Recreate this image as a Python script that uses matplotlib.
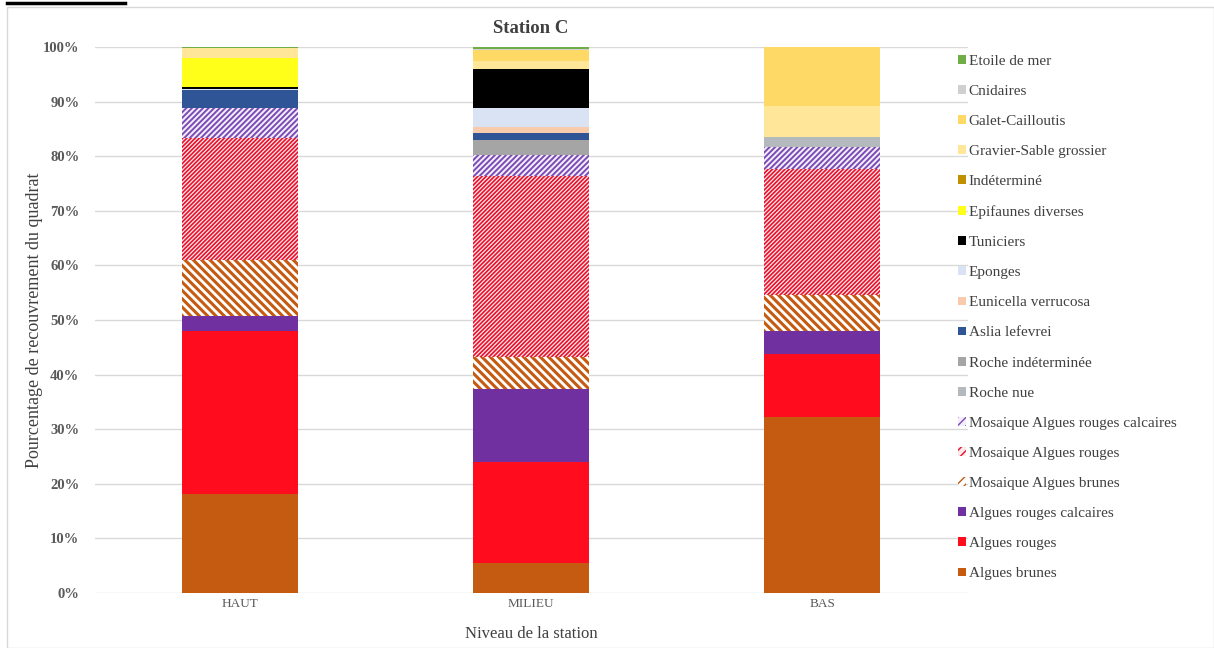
import numpy as np
import matplotlib
matplotlib.use("Agg")
import matplotlib.pyplot as plt
from matplotlib.patches import Patch, Rectangle
from matplotlib.lines import Line2D
from matplotlib.ticker import PercentFormatter

plt.rcParams['font.family'] = ['Liberation Serif', 'DejaVu Serif']

niveaux = ["HAUT", "MILIEU", "BAS"]

# recouvrement (%) par categorie, de bas en haut de la pile
algues_brunes = [18.2, 5.5, 32.3]
algues_rouges = [29.8, 18.5, 11.4]
algues_rouges_calcaires = [2.8, 13.3, 4.3]
mosaique_brunes = [10.2, 6.0, 6.6]
mosaique_rouges = [22.3, 33.0, 23.1]
mosaique_rouges_calcaires = [5.5, 3.9, 4.0]
roche_nue = [0.0, 0.0, 1.8]
roche_indeterminee = [0.0, 2.8, 0.0]
aslia_lefevrei = [3.3, 1.2, 0.0]
eunicella_verrucosa = [0.0, 1.1, 0.0]
eponges = [0.2, 3.5, 0.0]
tuniciers = [0.4, 7.2, 0.0]
epifaunes_diverses = [5.2, 0.0, 0.0]
indetermine = [0.0, 0.0, 0.0]
gravier_sable = [1.9, 1.5, 5.7]
galet_cailloutis = [0.0, 1.9, 10.8]
cnidaires = [0.0, 0.3, 0.0]
etoile_de_mer = [0.2, 0.3, 0.0]

# (label, valeurs, couleur de fond, couleur des hachures, motif, epaisseur hachures)
series = [
    ("Algues brunes", algues_brunes, "#C55A11", None, None, 0),
    ("Algues rouges", algues_rouges, "#FF0D1F", None, None, 0),
    ("Algues rouges calcaires", algues_rouges_calcaires, "#7030A0", None, None, 0),
    ("Mosaique Algues brunes", mosaique_brunes, "#FFFFFF", "#C55A11", "\\\\\\\\", 2.2),
    ("Mosaique Algues rouges", mosaique_rouges, "#FDE9EC", "#E8102A", "////////", 1.2),
    ("Mosaique Algues rouges calcaires", mosaique_rouges_calcaires, "#F3EEFA", "#7B4BB5", "//////", 1.4),
    ("Roche nue", roche_nue, "#B4B9BE", None, None, 0),
    ("Roche indéterminée", roche_indeterminee, "#A5A5A5", None, None, 0),
    ("Aslia lefevrei", aslia_lefevrei, "#2F5597", None, None, 0),
    ("Eunicella verrucosa", eunicella_verrucosa, "#F8CBAD", None, None, 0),
    ("Eponges", eponges, "#DAE3F3", None, None, 0),
    ("Tuniciers", tuniciers, "#000000", None, None, 0),
    ("Epifaunes diverses", epifaunes_diverses, "#FFFF1A", None, None, 0),
    ("Indéterminé", indetermine, "#BF9000", None, None, 0),
    ("Gravier-Sable grossier", gravier_sable, "#FFE699", None, None, 0),
    ("Galet-Cailloutis", galet_cailloutis, "#FFD966", None, None, 0),
    ("Cnidaires", cnidaires, "#D0D0D0", None, None, 0),
    ("Etoile de mer", etoile_de_mer, "#70AD47", None, None, 0),
]

fig = plt.figure(figsize=(12.14, 6.48), dpi=100)
ax = fig.add_axes([0.078, 0.085, 0.719, 0.8425])

x = np.arange(len(niveaux))
bottom = np.zeros(len(niveaux))
handles = []
for label, vals, face, hcol, hatch, hlw in series:
    vals = np.array(vals) / 100.0
    if hatch:
        plt.rcParams['hatch.linewidth'] = hlw
        ax.bar(x, vals, 0.40, bottom=bottom, color=face, edgecolor=hcol,
               hatch=hatch, linewidth=0, zorder=3)
        plt.rcParams['hatch.linewidth'] = 1.0
        handles.append(Patch(facecolor=face, edgecolor=hcol, hatch="////", linewidth=0, label=label))
    else:
        ax.bar(x, vals, 0.40, bottom=bottom, color=face, linewidth=0, zorder=3)
        handles.append(Patch(facecolor=face, linewidth=0, label=label))
    bottom += vals

ax.set_xlim(-0.5, 2.5)
ax.set_ylim(0, 1.0)
ax.set_yticks(np.arange(0, 1.01, 0.1))
ax.yaxis.set_major_formatter(PercentFormatter(1.0, decimals=0))
ax.set_xticks(x)
ax.set_xticklabels(niveaux)
ax.grid(axis='y', color='#D9D9D9', linewidth=1.0, zorder=0)
for s in ax.spines.values():
    s.set_visible(False)
ax.tick_params(axis='x', length=0, colors='#595959', labelsize=9.5)
ax.tick_params(axis='y', length=0, colors='#595959', labelsize=10.5, pad=11)
for t in ax.get_yticklabels():
    t.set_fontweight('bold')

ax.set_title("Station C", fontsize=13.5, fontweight='bold', color='#404040', pad=10)
ax.set_ylabel("Pourcentage de recouvrement du quadrat", fontsize=13, color='#404040', labelpad=0)
ax.set_xlabel("Niveau de la station", fontsize=12, color='#404040', labelpad=12)

leg = fig.legend(handles[::-1], [h.get_label() for h in handles[::-1]],
                 loc='center left', bbox_to_anchor=(0.784, 0.51), frameon=False,
                 fontsize=11, labelspacing=1.12, handlelength=0.5, handleheight=0.5,
                 handletextpad=0.2, borderaxespad=0)
for t in leg.get_texts():
    t.set_color('#404040')

# cadre du graphique
fig.patches.append(Rectangle((7 / 1214, 0), 1 - 7 / 1214, 1 - 7 / 648, transform=fig.transFigure,
                             fill=False, edgecolor='#D9D9D9', linewidth=1.0))
fig.lines.append(Line2D([7 / 1214, 125 / 1214], [1 - 2.5 / 648, 1 - 2.5 / 648],
                        transform=fig.transFigure, color='black', linewidth=2.5))

fig.savefig("out.png", dpi=100)
